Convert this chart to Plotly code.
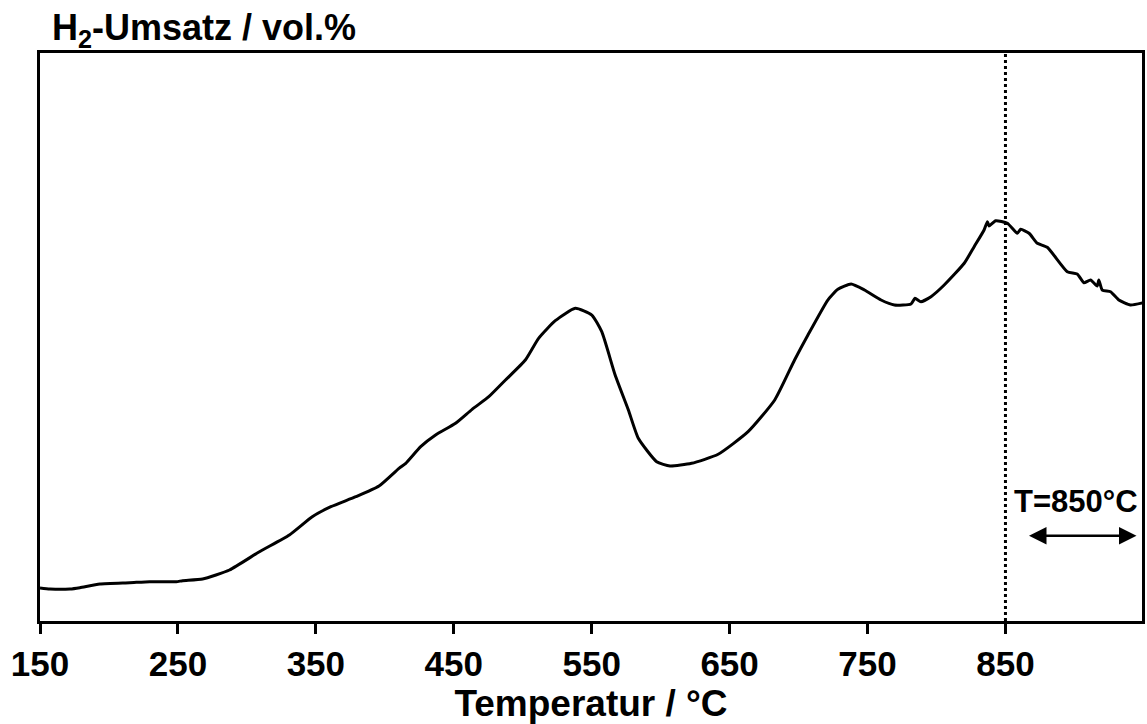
import plotly.graph_objects as go

# H2 conversion vs. temperature (TPR-style trace)
temperatur = [150, 157.2, 171.7, 178.9, 193.4, 215.1, 229.5, 248.8, 253.4, 267.9,
              287.4, 309.1, 330.8, 347.4, 360.9, 379.0, 395.8, 410.3, 415.2, 426.0,
              436.8, 451.3, 463.3, 475.4, 487.5, 501.9, 511.5, 523.6, 538.1, 550.1,
              557.3, 567.0, 576.6, 583.8, 597.1, 606.8, 622.4, 641.7, 663.4, 682.7,
              697.1, 706.8, 721.2, 728.5, 738.1, 747.8, 759.8, 769.5, 781.5, 784.4,
              788.7, 796.0, 805.6, 820.1, 827.3, 834.5, 836.9, 838.1, 842.9, 851.4,
              858.6, 861.0, 867.1, 873.1, 880.3, 894.8, 902.0, 906.9, 911.7, 916.5,
              917.7, 920.2, 926.2, 932.2, 940.6, 950.0]
umsatz = [5.81, 5.63, 5.63, 5.86, 6.51, 6.74, 6.92, 6.92, 7.10, 7.39,
          8.98, 12.20, 15.14, 18.36, 20.12, 21.88, 23.77, 26.88, 27.76, 30.69,
          32.75, 34.81, 37.27, 39.49, 42.43, 45.95, 49.77, 52.87, 55.05, 53.87,
          50.93, 43.31, 37.15, 32.17, 28.05, 27.29, 27.76, 29.35, 33.33, 38.91,
          45.95, 50.35, 56.51, 58.40, 59.33, 58.27, 56.51, 55.63, 55.81, 56.81,
          56.21, 57.10, 59.15, 62.98, 65.90, 68.84, 70.30, 69.54, 70.47, 70.02,
          68.26, 68.96, 68.26, 66.50, 65.79, 61.50, 61.09, 59.56, 60.04, 58.98,
          60.04, 58.27, 57.97, 56.51, 55.63, 56.04]

x_ticks = [150, 250, 350, 450, 550, 650, 750, 850]
t_haltezeit = 850          # isothermal hold temperature
pfeil_start, pfeil_ende = 866, 945
x_bereich = [150, 949]
y_bereich = [0, 100]

FONT = "Liberation Sans, Arial, sans-serif"

fig = go.Figure()
fig.add_trace(go.Scatter(
    x=temperatur, y=umsatz, mode="lines",
    line=dict(color="black", width=3, shape="spline", smoothing=0.5),
    showlegend=False, hoverinfo="skip",
))

# dotted marker at the hold temperature
fig.add_shape(type="line", xref="x", yref="paper",
              x0=t_haltezeit, x1=t_haltezeit, y0=0, y1=1,
              line=dict(color="black", width=3, dash="dot"))

# double arrow for the isothermal segment
fig.add_annotation(x=pfeil_ende, y=15, ax=pfeil_start, ay=15,
                   xref="x", yref="y", axref="x", ayref="y",
                   text="", showarrow=True, arrowside="end+start",
                   arrowhead=2, arrowsize=1.4, arrowwidth=2.5, arrowcolor="black")
fig.add_annotation(x=901, y=21, xref="x", yref="y",
                   text="T=850°C", showarrow=False,
                   font=dict(family=FONT, size=31, color="black", weight="bold"))

# y-axis caption at the top left
fig.add_annotation(x=0, y=1, xref="paper", yref="paper",
                   xanchor="left", yanchor="bottom", xshift=10, yshift=-2,
                   text="H<sub>2</sub>-Umsatz / vol.%", showarrow=False,
                   font=dict(family=FONT, size=36, color="black", weight="bold"))

fig.update_layout(
    width=1147, height=724,
    margin=dict(l=40, r=2, t=53, b=103),
    paper_bgcolor="white", plot_bgcolor="white",
    font=dict(family=FONT, color="black"),
    xaxis=dict(
        range=x_bereich, tickvals=x_ticks, ticktext=[str(t) for t in x_ticks],
        ticks="outside", ticklen=10, tickwidth=3, tickcolor="black",
        showline=True, linewidth=3, linecolor="black", mirror=True,
        showgrid=False, zeroline=False,
        tickfont=dict(family=FONT, size=35, color="black", weight="bold"),
        title=dict(text="Temperatur / °C", standoff=4,
                   font=dict(family=FONT, size=37, color="black", weight="bold")),
    ),
    yaxis=dict(
        range=y_bereich, showticklabels=False, ticks="",
        showline=True, linewidth=3, linecolor="black", mirror=True,
        showgrid=False, zeroline=False,
    ),
)

fig.write_html("out.html")
